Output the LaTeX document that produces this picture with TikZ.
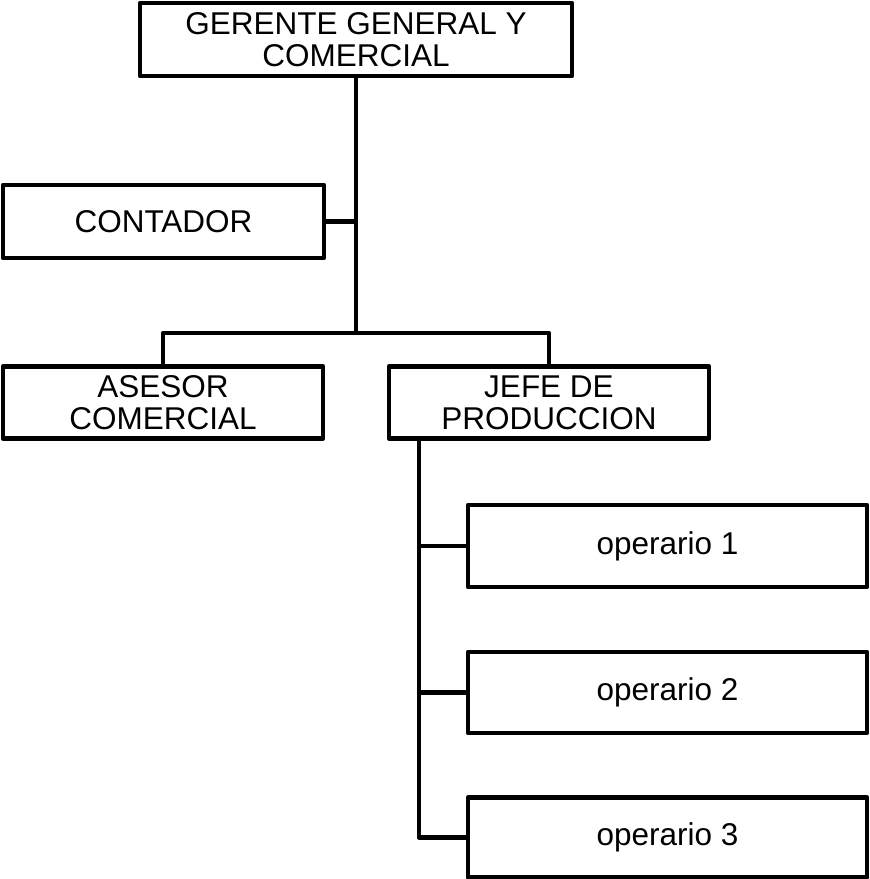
\documentclass[tikz,border=0pt]{standalone}
\usepackage{fontspec}
\setmainfont{Liberation Sans}
\begin{document}
\begin{tikzpicture}[x=1pt,y=-1pt,
  box/.style={draw,line width=4.5pt,line join=round,inner sep=0pt,align=center,
    font=\fontsize{31.5}{32}\selectfont},
  link/.style={line width=4.5pt,line join=round}]
\useasboundingbox (0,0) rectangle (870,879);
\node[box,minimum width=432pt,minimum height=73pt] (top) at (356,39.5) {GERENTE GENERAL Y\\COMERCIAL};
\node[box,minimum width=321pt,minimum height=73pt] (cont) at (163.5,221.5) {CONTADOR};
\node[box,minimum width=320pt,minimum height=72pt] (ases) at (163,402.5) {ASESOR\\COMERCIAL};
\node[box,minimum width=320pt,minimum height=72pt] (jefe) at (549,402.5) {JEFE DE\\PRODUCCION};
\node[box,minimum width=399pt,minimum height=82pt] (op1) at (667.5,546) {operario 1};
\node[box,minimum width=399pt,minimum height=81pt] (op2) at (667.5,692.5) {operario 2};
\node[box,minimum width=399pt,minimum height=80pt] (op3) at (667.5,837.5) {operario 3};
\coordinate (bus) at (356,333);
\coordinate (sp) at ([xshift=32pt]jefe.south west);
\draw[link] (top.south) -- (bus);
\draw[link] (cont.east) -- (cont.east -| bus);
\draw[link] (ases.north) |- (bus) -| (jefe.north);
\draw[link] (sp) |- (op3.west);
\draw[link] (op1.west) -- (op1.west -| sp);
\draw[link] (op2.west) -- (op2.west -| sp);
\end{tikzpicture}
\end{document}
